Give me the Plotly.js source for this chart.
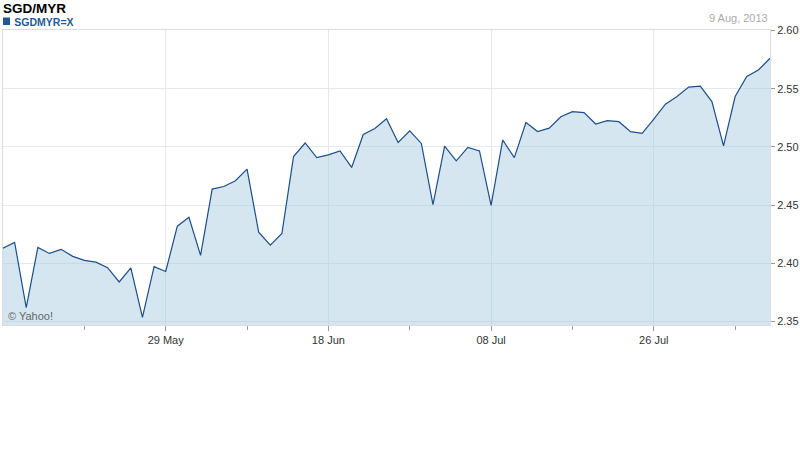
<!DOCTYPE html>
<html>
<head>
<meta charset="utf-8">
<script src="https://cdn.plot.ly/plotly-3.0.1.min.js"></script>
<style>html,body{margin:0;padding:0;background:#fff;}#chart{width:800px;height:475px;}</style>
</head>
<body>
<div id="chart"></div>
<script>
const dates = [
  "2013-05-09","2013-05-10","2013-05-13","2013-05-14","2013-05-15","2013-05-16","2013-05-17",
  "2013-05-20","2013-05-21","2013-05-22","2013-05-23","2013-05-24","2013-05-27","2013-05-28",
  "2013-05-29","2013-05-30","2013-05-31","2013-06-03","2013-06-04","2013-06-05","2013-06-06",
  "2013-06-07","2013-06-10","2013-06-11","2013-06-12","2013-06-13","2013-06-14","2013-06-17",
  "2013-06-18","2013-06-19","2013-06-20","2013-06-21","2013-06-24","2013-06-25","2013-06-26",
  "2013-06-27","2013-06-28","2013-07-01","2013-07-02","2013-07-03","2013-07-04","2013-07-05",
  "2013-07-08","2013-07-09","2013-07-10","2013-07-11","2013-07-12","2013-07-15","2013-07-16",
  "2013-07-17","2013-07-18","2013-07-19","2013-07-22","2013-07-23","2013-07-24","2013-07-25",
  "2013-07-26","2013-07-29","2013-07-30","2013-07-31","2013-08-01","2013-08-02","2013-08-05",
  "2013-08-06","2013-08-07","2013-08-08","2013-08-09"
];
const rates = [
  2.413, 2.418, 2.362, 2.4137, 2.4085, 2.412, 2.406,
  2.4026, 2.401, 2.3963, 2.384, 2.396, 2.3536, 2.3972,
  2.393, 2.4319, 2.4396, 2.4068, 2.4638, 2.466, 2.471,
  2.481, 2.4268, 2.4156, 2.4256, 2.4917, 2.5034, 2.4908,
  2.4932, 2.4966, 2.4824, 2.5107, 2.5158, 2.5243, 2.5038,
  2.5138, 2.503, 2.4505, 2.5008, 2.488, 2.4996, 2.4966,
  2.4498, 2.506, 2.4908, 2.521, 2.5133, 2.5162, 2.526,
  2.5303, 2.5295, 2.5197, 2.5226, 2.5217, 2.5131, 2.5117,
  2.5239, 2.5367, 2.5433, 2.5514, 2.5522, 2.539, 2.501,
  2.5433, 2.5605, 2.5662, 2.5762
];
const xTickVals = ["2013-05-29","2013-06-18","2013-07-08","2013-07-26"];
const xTickText = ["29 May","18 Jun","08 Jul","26 Jul"];
const xMinorVals = ["2013-05-20","2013-06-07","2013-06-27","2013-07-17","2013-08-06"];
const yTickVals = [2.35, 2.40, 2.45, 2.50, 2.55, 2.60];
const yTickText = ["2.35","2.40","2.45","2.50","2.55","2.60"];
const titleText = "SGD/MYR";
const symbolText = "SGDMYR=X";
const dateText = "9 Aug, 2013";
const creditText = "© Yahoo!";

const trace = {
  x: dates, y: rates, type: "scatter", mode: "lines",
  line: {color: "#1b4f8a", width: 1.2},
  fill: "tozeroy", fillcolor: "rgba(160,197,223,0.44)",
  hoverinfo: "x+y"
};

const font = "Liberation Sans, Arial, sans-serif";
const layout = {
  width: 800, height: 475,
  margin: {l: 3, r: 30, t: 30, b: 150},
  paper_bgcolor: "#fff", plot_bgcolor: "#fff",
  showlegend: false,
  font: {family: font, size: 11, color: "#333"},
  xaxis: {
    type: "category", range: [0, 66],
    tickmode: "array", tickvals: xTickVals, ticktext: xTickText,
    ticks: "outside", ticklen: 5, tickcolor: "#999", tickwidth: 1,
    showgrid: true, gridcolor: "#e4e9ef", gridwidth: 1,
    showline: true, linecolor: "#dcdcdc", mirror: true, linewidth: 1,
    zeroline: false,
    tickfont: {family: font, size: 11, color: "#333"},
    minor: {tickvals: xMinorVals, ticks: "outside", ticklen: 4, tickcolor: "#999", showgrid: false}
  },
  yaxis: {
    side: "right", range: [2.347, 2.6005],
    tickmode: "array", tickvals: yTickVals, ticktext: yTickText,
    ticks: "outside", ticklen: 4, tickcolor: "#999",
    showgrid: true, gridcolor: "#e4e9ef", gridwidth: 1,
    showline: true, linecolor: "#dcdcdc", mirror: true,
    zeroline: false,
    tickfont: {family: font, size: 11, color: "#333"}
  },
  shapes: [
    {type: "rect", xref: "paper", yref: "paper", x0: 0, x1: 0.0091, y0: 1.0169, y1: 1.0424,
     fillcolor: "#1f5a96", line: {width: 0}}
  ],
  annotations: [
    {text: "<span style='font-size:13.5px;color:#000'><b>" + titleText + "</b></span><br>" +
           "&nbsp;&nbsp;&nbsp;&nbsp;<span style='font-size:10.5px;color:#1f5a96'><b>" + symbolText + "</b></span>",
     xref: "paper", yref: "paper", x: -0.002, y: 1.106,
     xanchor: "left", yanchor: "top", align: "left", showarrow: false,
     font: {family: font, size: 10.2, color: "#000"}},
    {text: dateText, xref: "paper", yref: "paper", x: 1.0, y: 1.0405,
     xanchor: "right", yanchor: "middle", showarrow: false,
     font: {family: font, size: 11, color: "#aaa"}},
    {text: creditText, xref: "paper", yref: "paper", x: 0.004, y: 0.0305,
     xanchor: "left", yanchor: "middle", showarrow: false,
     font: {family: font, size: 11, color: "#666"}}
  ]
};

Plotly.newPlot("chart", [trace], layout, {displayModeBar: false, staticPlot: true});
</script>
</body>
</html>
